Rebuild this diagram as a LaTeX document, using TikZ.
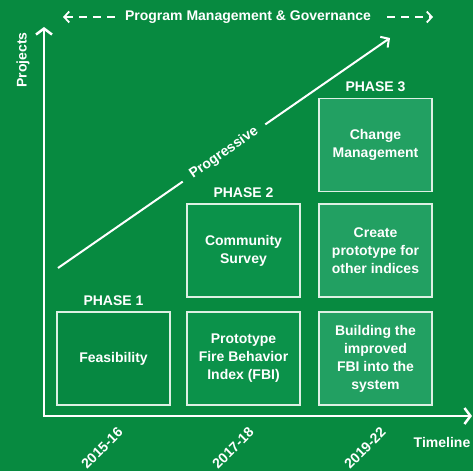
\documentclass[tikz,border=0pt]{standalone}
\usepackage{fontspec}
\setmainfont{Liberation Sans}
\usetikzlibrary{arrows.meta,positioning}
\definecolor{bgGreen}{HTML}{078A40}
\definecolor{oneGreen}{HTML}{068841}
\definecolor{twoGreen}{HTML}{0B924A}
\definecolor{threeGreen}{HTML}{22A062}
\definecolor{edgeWhite}{HTML}{DDF0E3}

\begin{document}
\begin{tikzpicture}[x=1pt, y=1pt,
    txt/.style={text=white, font=\fontsize{14}{18}\selectfont\bfseries},
    phasebox/.style={txt, draw=edgeWhite, line width=1.3pt, minimum width=113pt,
        minimum height=93pt, align=center, inner sep=0pt},
    phaselabel/.style={txt, inner sep=0pt},
    barb/.tip={Straight Barb[length=6pt, width=16pt]},
    smallbarb/.tip={Straight Barb[length=5pt, width=11pt]}]
    \fill[bgGreen] (0,0) rectangle (473,471);
    \useasboundingbox (0,0) rectangle (473,471);

    % axes
    \coordinate (orig) at (44,55);
    \coordinate (ytip) at (44,444);
    \coordinate (xtip) at (472,55);
    \draw[white, line width=2.5pt, barb-barb] (ytip) -- (orig) -- (xtip);
    \node[txt, rotate=90] (projects) at (23,411) {Projects};
    \node[txt] (timeline) at (442,29) {Timeline};

    % years
    \foreach \x/\yr in {102/2015-16, 233/2017-18, 365/2019-22}
        \node[txt, rotate=45] (yr\x) at (\x,23) {\yr};

    % governance
    \coordinate (govL) at (63,454);
    \coordinate (govR) at (433,454);
    \draw[white, line width=1.8pt, dash pattern=on 8pt off 6pt, smallbarb-smallbarb]
        (govL) -- (govR) node[midway, txt, fill=bgGreen, inner xsep=10pt] (gov)
        {Program Management \& Governance};

    % progressive
    \coordinate (progA) at (58,203);
    \coordinate (progB) at (390,433);
    \draw[white, line width=2pt, -{Straight Barb[length=6pt, width=13pt]}]
        (progA) -- (progB) node[midway, sloped, txt, fill=bgGreen, inner xsep=10pt] (prog)
        {Progressive};

    % phase 1
    \node[phasebox, fill=oneGreen] (feas) at (113.5,112.5) {Feasibility};
    \node[phaselabel, above=6pt of feas] (ph1) {PHASE 1};

    % phase 2
    \node[phasebox, fill=twoGreen] (fbi) at (243.5,112.5) {Prototype\\Fire Behavior\\Index (FBI)};
    \node[phasebox, fill=twoGreen] (survey) at (243.5,220.5) {Community\\Survey};
    \node[phaselabel, above=6pt of survey] (ph2) {PHASE 2};

    % phase 3
    \node[phasebox, fill=threeGreen] (build) at (375.5,112.5) {Building the\\improved\\FBI into the\\system};
    \node[phasebox, fill=threeGreen] (create) at (375.5,220.5) {Create\\prototype for\\other indices};
    \node[phasebox, fill=threeGreen] (change) at (375.5,326) {Change\\Management};
    \node[phaselabel, above=6pt of change] (ph3) {PHASE 3};
\end{tikzpicture}
\end{document}
